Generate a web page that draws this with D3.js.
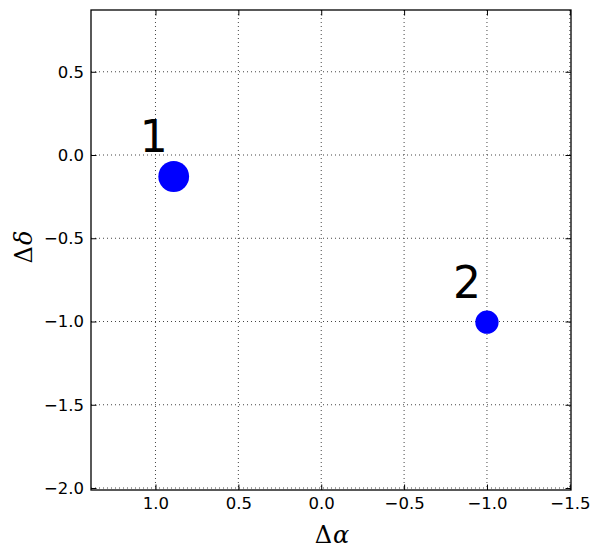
<!DOCTYPE html>
<html>
<head>
<meta charset="utf-8">
<script src="https://cdn.jsdelivr.net/npm/d3@7"></script>
<style>
  body { margin: 0; background: #fff; }
  .tick text { font-family: "DejaVu Sans", sans-serif; font-size: 16.5px; fill: #000; }
  .grid line { stroke: #444; stroke-width: 1; stroke-dasharray: 1,3; }
  .lbl { font-family: "DejaVu Serif", serif; font-size: 24px; }
</style>
</head>
<body>
<svg id="chart" width="600" height="558"></svg>
<script>
// source positions (offsets, arcsec) and relative weight
var names = ['1', '2']
var dAlpha = [0.89, -1.0]
var dDelta = [-0.129, -1.004]
var weight = [1.0, 0.57]

var xTicks = [1.0, 0.5, 0.0, -0.5, -1.0, -1.5]
var yTicks = [0.5, 0.0, -0.5, -1.0, -1.5, -2.0]

var pLeft = 91, pRight = 571, pTop = 10, pBottom = 490
var svg = d3.select('#chart')

// RA axis runs backwards (east to the left)
var xScale = d3.scaleLinear().domain([1.389, -1.507]).range([pLeft, pRight])
var yScale = d3.scaleLinear().domain([0.871, -2.012]).range([pTop, pBottom])
var rScale = d3.scaleSqrt().domain([0, 1]).range([0, 15.4])
var fmt = d3.format('.1f')

// grid
var grid = svg.append('g').attr('class', 'grid')
grid.selectAll('line.gx')
  .data(xTicks).enter()
  .append('line')
  .attr('class', 'gx')
  .attr('x1', function (d) { return xScale(d) })
  .attr('x2', function (d) { return xScale(d) })
  .attr('y1', pTop)
  .attr('y2', pBottom)
grid.selectAll('line.gy')
  .data(yTicks).enter()
  .append('line')
  .attr('class', 'gy')
  .attr('x1', pLeft)
  .attr('x2', pRight)
  .attr('y1', function (d) { return yScale(d) })
  .attr('y2', function (d) { return yScale(d) })

// axes with inward ticks on all four sides
function styleAxis(g) {
  g.select('.domain').remove()
  g.selectAll('.tick line').attr('stroke', '#000').attr('stroke-width', 1)
}
svg.append('g')
  .attr('transform', 'translate(0,' + pBottom + ')')
  .call(d3.axisBottom(xScale).tickValues(xTicks).tickFormat(fmt).tickSizeInner(-5.5).tickPadding(7))
  .call(styleAxis)
svg.append('g')
  .attr('transform', 'translate(0,' + pTop + ')')
  .call(d3.axisTop(xScale).tickValues(xTicks).tickFormat('').tickSizeInner(-5.5))
  .call(styleAxis)
svg.append('g')
  .attr('transform', 'translate(' + pLeft + ',0)')
  .call(d3.axisLeft(yScale).tickValues(yTicks).tickFormat(fmt).tickSizeInner(-5.5).tickPadding(7))
  .call(styleAxis)
svg.append('g')
  .attr('transform', 'translate(' + pRight + ',0)')
  .call(d3.axisRight(yScale).tickValues(yTicks).tickFormat('').tickSizeInner(-5.5))
  .call(styleAxis)

// frame
svg.append('rect')
  .attr('x', pLeft).attr('y', pTop)
  .attr('width', pRight - pLeft).attr('height', pBottom - pTop)
  .attr('fill', 'none').attr('stroke', '#000').attr('stroke-width', 1.3)

// sources
svg.selectAll('circle.src')
  .data(names).enter()
  .append('circle')
  .attr('class', 'src')
  .attr('cx', function (d, i) { return xScale(dAlpha[i]) })
  .attr('cy', function (d, i) { return yScale(dDelta[i]) })
  .attr('r', function (d, i) { return rScale(weight[i]) })
  .attr('fill', '#0000ff')

svg.selectAll('text.name')
  .data(names).enter()
  .append('text')
  .attr('class', 'name')
  .attr('x', function (d, i) { return xScale(dAlpha[i] + 0.12) })
  .attr('y', function (d, i) { return yScale(dDelta[i] + 0.146) })
  .attr('text-anchor', 'middle')
  .style('font-family', '"DejaVu Sans", sans-serif')
  .style('font-size', '44px')
  .text(function (d) { return d })

// axis labels
var xl = svg.append('text').attr('class', 'lbl')
  .attr('x', 332).attr('y', 543).attr('text-anchor', 'middle')
xl.append('tspan').text('\u0394')
xl.append('tspan').attr('dx', 1).style('font-style', 'italic').text('\u03b1')

var yl = svg.append('text').attr('class', 'lbl')
  .attr('transform', 'translate(32,247) rotate(-90)').attr('text-anchor', 'middle')
yl.append('tspan').text('\u0394')
yl.append('tspan').attr('dx', 1).style('font-style', 'italic').text('\u03b4')
</script>
</body>
</html>
